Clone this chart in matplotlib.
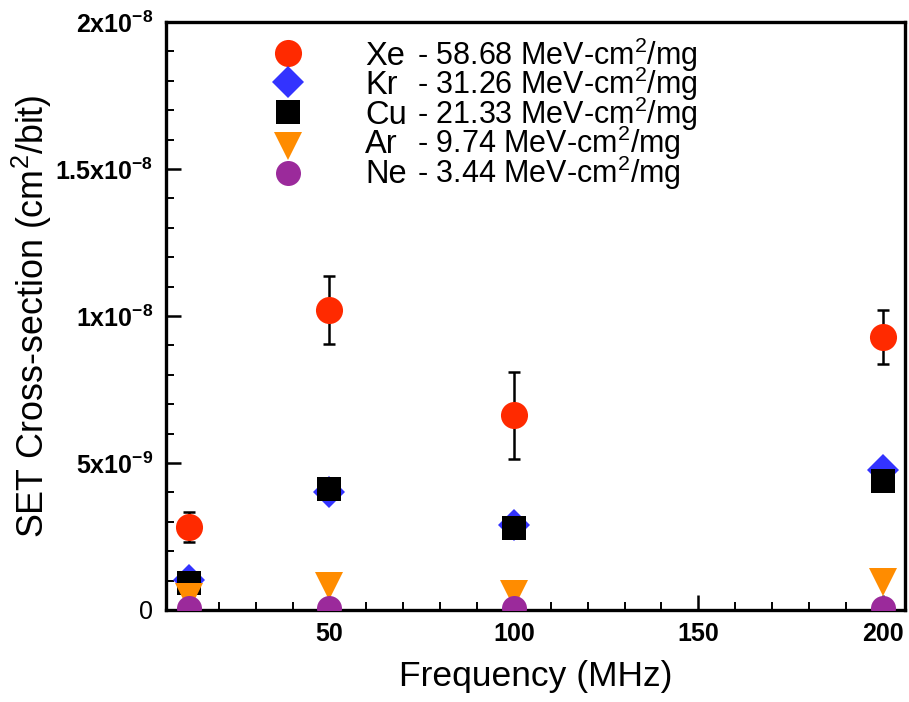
import matplotlib
matplotlib.use("Agg")
import matplotlib.pyplot as plt

plt.rcParams["font.family"] = ["Liberation Sans", "DejaVu Sans"]
plt.rcParams["mathtext.fontset"] = "custom"
plt.rcParams["mathtext.rm"] = "Liberation Sans"
plt.rcParams["mathtext.it"] = "Liberation Sans:italic"
plt.rcParams["mathtext.bf"] = "Liberation Sans:bold"

# Test frequencies (MHz)
freq = [12, 50, 100, 200]

# SET cross-sections (cm^2/bit) per ion
xe = [2.82e-9, 10.19e-9, 6.63e-9, 9.27e-9]
xe_err = [0.50e-9, 1.16e-9, 1.48e-9, 0.92e-9]
kr = [1.02e-9, 4.02e-9, 2.90e-9, 4.75e-9]
cu = [0.92e-9, 4.11e-9, 2.78e-9, 4.40e-9]
ar = [0.45e-9, 0.80e-9, 0.55e-9, 0.94e-9]
ne = [0.05e-9, 0.05e-9, 0.05e-9, 0.05e-9]

ions = ["Xe", "Kr", "Cu", "Ar", "Ne"]
let_values = ["58.68", "31.26", "21.33", "9.74", "3.44"]

x_ticks = [50, 100, 150, 200]
y_ticks = [0, 5e-9, 1e-8, 1.5e-8, 2e-8]
y_tick_labels = ["0", r"$\mathbf{5x10^{-9}}$", r"$\mathbf{1x10^{-8}}$",
                 r"$\mathbf{1.5x10^{-8}}$", r"$\mathbf{2x10^{-8}}$"]

styles = {
    "Xe": dict(marker="o", color="#ff2a00", ms=19.5),
    "Kr": dict(marker="D", color="#3333ff", ms=16.0),
    "Cu": dict(marker="s", color="#000000", ms=17.5),
    "Ar": dict(marker="v", color="#ff8c00", ms=20.0),
    "Ne": dict(marker="o", color="#9b2a9b", ms=18.0),
}
series = {"Xe": xe, "Kr": kr, "Cu": cu, "Ar": ar, "Ne": ne}

fig = plt.figure(figsize=(9.09, 7.02), dpi=100)
ax = fig.add_axes([0.1826, 0.1311, 0.813, 0.8376])

ax.errorbar(freq, xe, yerr=xe_err, fmt="none", ecolor="black",
            elinewidth=1.8, capsize=4.6, capthick=1.8, zorder=2)

for i, ion in enumerate(ions):
    st = styles[ion]
    ax.plot(freq, series[ion], linestyle="none", marker=st["marker"],
            markersize=st["ms"], markerfacecolor=st["color"],
            markeredgecolor=st["color"], markeredgewidth=0,
            zorder=3 + i)

ax.set_xlim(5.7, 206)
ax.set_ylim(0, 2e-8)
ax.set_xticks(x_ticks)
ax.set_xticks(range(10, 206, 10), minor=True)
ax.set_yticks(y_ticks)
ax.set_yticklabels(y_tick_labels)
ax.set_yticks([k * 1e-9 for k in range(21)], minor=True)

for lab in ax.get_xticklabels():
    lab.set_fontweight("bold")
ax.tick_params(axis="both", which="major", direction="in", length=11,
               width=1.8, labelsize=18, pad=9)
ax.tick_params(axis="both", which="minor", direction="in", length=5.5,
               width=1.4)
ax.tick_params(top=False, right=False, which="both")

for sp in ax.spines.values():
    sp.set_linewidth(2.4)

ax.set_xlabel("Frequency (MHz)", fontsize=25.5, labelpad=10)
ax.set_ylabel("SET Cross-section (cm$^2$/bit)", fontsize=25.8)
ax.yaxis.set_label_coords(-0.152, 0.5)

# Key: marker, ion name and its LET
marker_y = [0.9478, 0.8985, 0.8474, 0.7891, 0.7437]
text_y = [0.9269, 0.8767, 0.8265, 0.7764, 0.7262]
for ion, let, my, ty in zip(ions, let_values, marker_y, text_y):
    st = styles[ion]
    ax.plot([0.1655], [my], transform=ax.transAxes, linestyle="none",
            marker=st["marker"], markersize=st["ms"],
            markerfacecolor=st["color"], markeredgecolor=st["color"],
            markeredgewidth=0, clip_on=False, zorder=10)
    ax.text(0.2693, ty, ion, transform=ax.transAxes, fontsize=23.5,
            va="baseline", ha="left")
    ax.text(0.3397, ty, "- " + let + " MeV-cm$^2$/mg", transform=ax.transAxes,
            fontsize=22, va="baseline", ha="left")

fig.savefig("out.png", dpi=100)
